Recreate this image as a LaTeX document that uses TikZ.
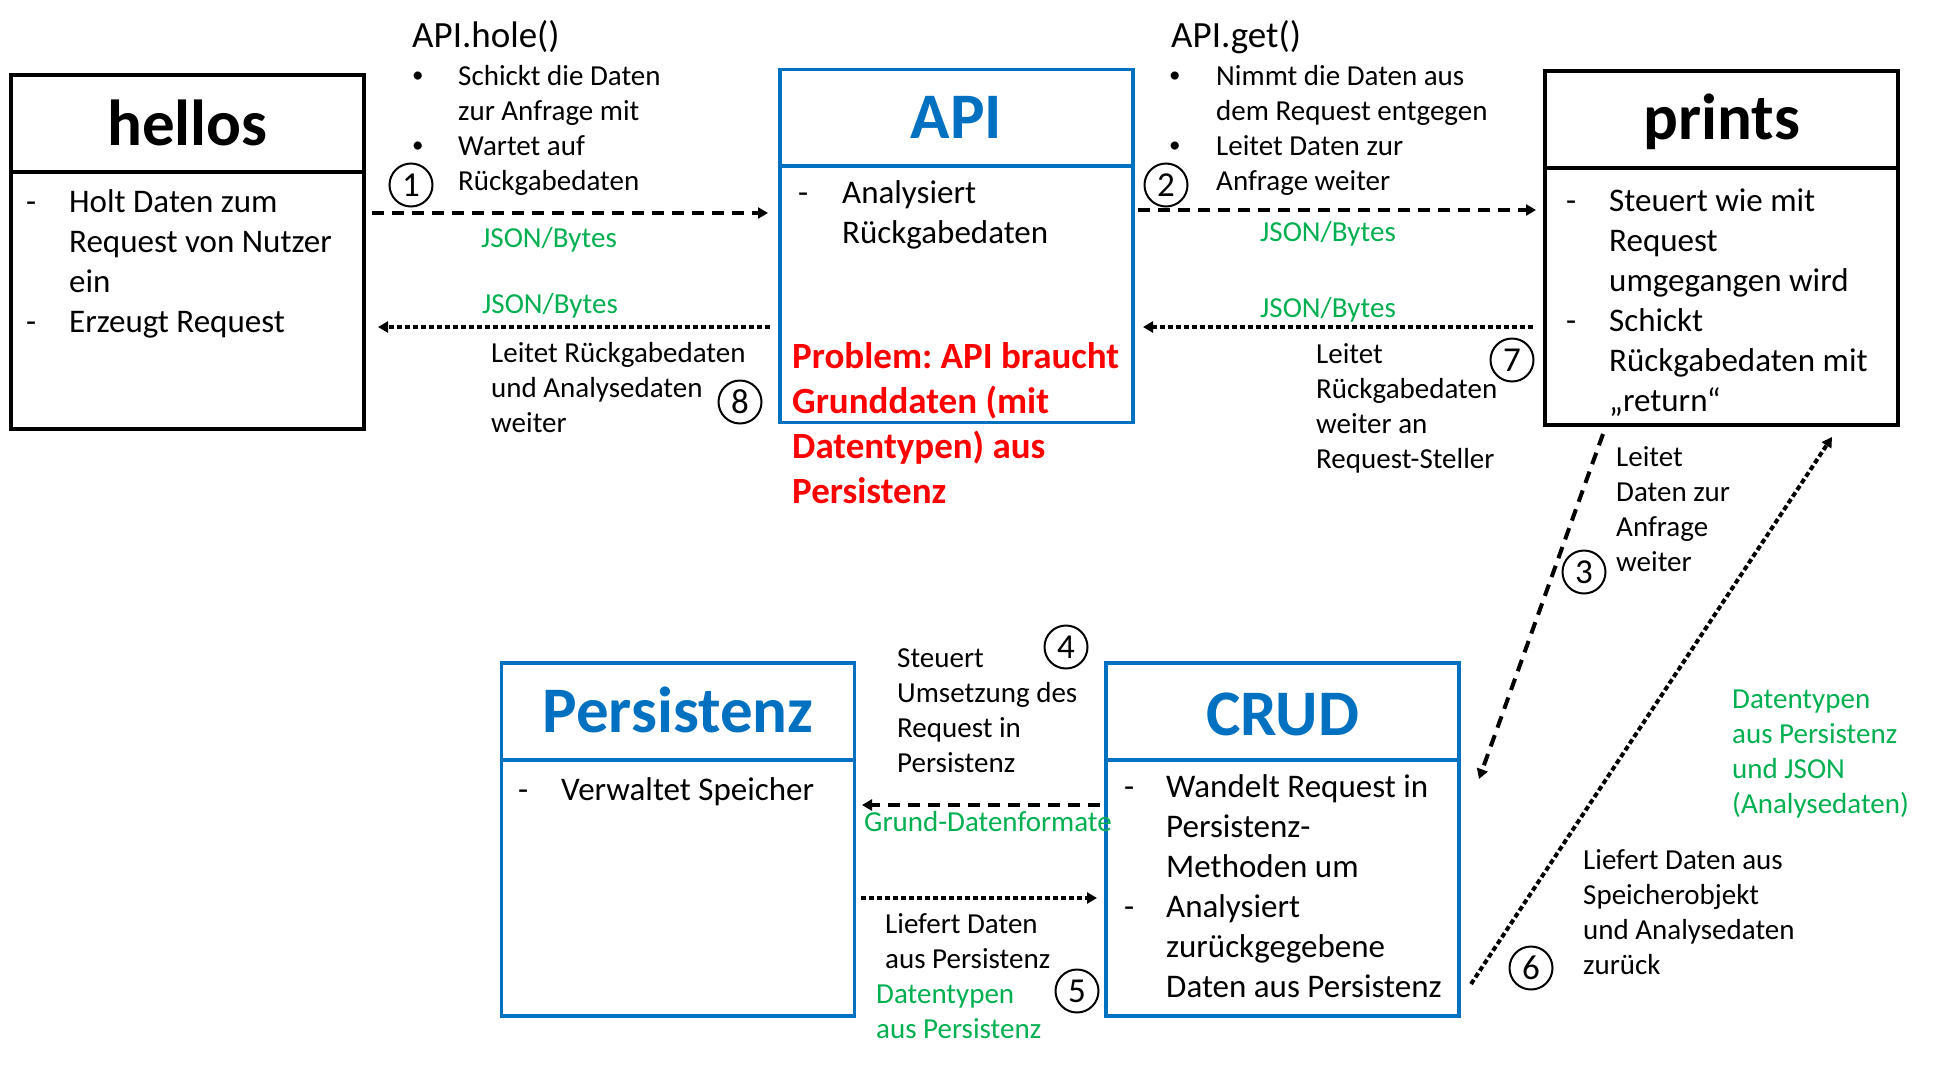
\documentclass[tikz,border=0pt]{standalone}
\usepackage{fontspec}
\setmainfont{Carlito}
\usetikzlibrary{arrows.meta}
\definecolor{ppblue}{HTML}{0070C0}
\definecolor{ppgreen}{HTML}{00B050}
\definecolor{ppred}{HTML}{FF0000}
\frenchspacing
\newcommand{\ml}[1]{\begin{tabular}[t]{@{}l@{}}#1\end{tabular}}
\newcommand{\bl}[1]{\begin{tabular}[t]{@{}p{42bp}@{}l@{}}#1\end{tabular}}
\newcommand{\dl}[1]{\begin{tabular}[t]{@{}p{43bp}@{}l@{}}#1\end{tabular}}
\newcommand{\bul}{\raisebox{2.5bp}{\fontsize{23bp}{23bp}\selectfont•}}
\begin{document}
\begin{tikzpicture}[x=1bp,y=-1bp,
  frameK/.style={draw=black,line width=4bp,inner sep=0,minimum width=353bp,minimum height=354bp},
  frameB/.style={draw=ppblue,line width=3.5bp,inner sep=0,minimum width=353bp,minimum height=353bp},
  ttl/.style={font=\fontsize{65bp}{78bp}\selectfont\bfseries,anchor=base,inner sep=0},
  body/.style={font=\fontsize{33bp}{40bp}\selectfont,anchor=base west,inner sep=0},
  note/.style={font=\fontsize{29bp}{35bp}\selectfont,anchor=base west,inner sep=0},
  big/.style={font=\fontsize{37bp}{45bp}\selectfont,anchor=base west,inner sep=0},
  redtxt/.style={font=\fontsize{37bp}{45bp}\selectfont\bfseries,anchor=base west,inner sep=0,text=ppred},
  num/.style={circle,draw,line width=2bp,minimum size=43bp,inner sep=0,font=\fontsize{35bp}{40bp}\selectfont},
  dasharr/.style={line width=4bp,dash pattern=on 12bp off 8bp,-{Triangle[length=10bp,width=11bp]}},
  dotarr/.style={line width=4bp,dash pattern=on 5bp off 3bp,-{Triangle[length=10bp,width=11bp]}}
]
\useasboundingbox[fill=white] (0,0) rectangle (1933,1065);

% ---- hellos
\node[frameK] (hellos) at (187.5,252) {};
\draw[line width=4bp] (hellos.west |- 0,172) -- (hellos.east |- 0,172);
\node[ttl] (hellosT) at (187.5,145) {hellos};
\node[body] (hellosB) at (26,212) {\dl{- & Holt Daten zum\\ & Request von Nutzer\\ & ein\\ - & Erzeugt Request}};

% ---- API
\node[frameB] (api) at (956.5,246) {};
\draw[ppblue,line width=3.5bp] (api.west |- 0,166) -- (api.east |- 0,166);
\node[ttl,text=ppblue] (apiT) at (956.5,138) {API};
\node[body] (apiB) at (798,203) {\begin{tabular}[t]{@{}p{44bp}@{}l@{}}- & Analysiert\\ & Rückgabedaten\end{tabular}};
\node[redtxt] (problem) at (792,368) {\begin{tabular}[t]{@{}l@{}}Problem: API braucht\\ Grunddaten (mit\\ Datentypen) aus\\ Persistenz\end{tabular}};

% ---- prints
\node[frameK] (prints) at (1721.5,248) {};
\draw[line width=4bp] (prints.west |- 0,168) -- (prints.east |- 0,168);
\node[ttl] (printsT) at (1721.5,139) {prints};
\node[body] (printsB) at (1566,211) {\dl{- & Steuert wie mit\\ & Request\\ & umgegangen wird\\ - & Schickt\\ & Rückgabedaten mit\\ & „return“}};

% ---- Persistenz
\node[frameB] (pers) at (678,839.5) {};
\draw[ppblue,line width=3.5bp] (pers.west |- 0,760) -- (pers.east |- 0,760);
\node[ttl,text=ppblue] (persT) at (678,732) {Persistenz};
\node[body] (persB) at (518,800) {\dl{- & Verwaltet Speicher}};

% ---- CRUD
\node[frameB] (crud) at (1282.5,839.5) {};
\draw[ppblue,line width=3.5bp] (crud.west |- 0,760) -- (crud.east |- 0,760);
\node[ttl,text=ppblue] (crudT) at (1282.5,735) {CRUD};
\node[body] (crudB) at (1124,797) {\begin{tabular}[t]{@{}p{42bp}@{}l@{}}- & Wandelt Request in\\ & Persistenz-\\ & Methoden um\\ - & Analysiert\\ & zurückgegebene\\ & Daten aus Persistenz\end{tabular}};

% ---- connector endpoints
\coordinate (a1s) at (372,213);  \coordinate (a1e) at (768,213);
\coordinate (a8s) at (770,327);  \coordinate (a8e) at (378,327);
\coordinate (a2s) at (1138,210); \coordinate (a2e) at (1536,210);
\coordinate (a7s) at (1533,327); \coordinate (a7e) at (1143,327);
\coordinate (a3s) at (1603,434); \coordinate (a3e) at (1479,779);
\coordinate (a6s) at (1471,984); \coordinate (a6e) at (1832,437);
\coordinate (a4s) at (1100,805); \coordinate (a4e) at (862,805);
\coordinate (a5s) at (861,898);  \coordinate (a5e) at (1097,898);

\draw[dasharr] (a1s) -- (a1e);
\draw[dotarr]  (a8s) -- (a8e);
\draw[dasharr] (a2s) -- (a2e);
\draw[dotarr]  (a7s) -- (a7e);
\draw[dasharr] (a3s) -- (a3e);
\draw[dotarr]  (a6s) -- (a6e);
\draw[dasharr] (a4s) -- (a4e);
\draw[dotarr]  (a5s) -- (a5e);

% ---- labels
\node[big] (hole) at (412,47) {API.hole()};
\node[note] (holeL) at (412,85) {\begin{tabular}[t]{@{}p{46bp}@{}l@{}}\bul & Schickt die Daten\\ & zur Anfrage mit\\ \bul & Wartet auf\\ & Rückgabedaten\end{tabular}};
\node[note,text=ppgreen] (j1) at (481,247) {JSON/Bytes};
\node[note,text=ppgreen] (j8) at (482,313) {JSON/Bytes};
\node[note] (l8) at (491,362) {\ml{Leitet Rückgabedaten\\ und Analysedaten\\ weiter}};

\node[big] (get) at (1171,47) {API.get()};
\node[note] (getL) at (1169,85) {\begin{tabular}[t]{@{}p{47bp}@{}l@{}}\bul & Nimmt die Daten aus\\ & dem Request entgegen\\ \bul & Leitet Daten zur\\ & Anfrage weiter\end{tabular}};
\node[note,text=ppgreen] (j2) at (1260,241) {JSON/Bytes};
\node[note,text=ppgreen] (j7) at (1260,317) {JSON/Bytes};
\node[note] (l7) at (1316,363) {\ml{Leitet\\ Rückgabedaten\\ weiter an\\ Request-Steller}};

\node[note] (l3) at (1616,466) {\ml{Leitet\\ Daten zur\\ Anfrage\\ weiter}};
\node[note,text=ppgreen] (g6) at (1732,708) {\ml{Datentypen\\ aus Persistenz\\ und JSON\\ (Analysedaten)}};
\node[note] (l6) at (1583,869) {\ml{Liefert Daten aus\\ Speicherobjekt\\ und Analysedaten\\ zurück}};

\node[note] (l4) at (897,667) {\ml{Steuert\\ Umsetzung des\\ Request in\\ Persistenz}};
\node[note,text=ppgreen] (g4) at (864,831) {Grund-Datenformate};
\node[note] (l5) at (885,933) {\ml{Liefert Daten\\ aus Persistenz}};
\node[note,text=ppgreen] (g5) at (876,1003) {\ml{Datentypen\\ aus Persistenz}};

% ---- step numbers
\node[num] (c1) at (411,185) {1};
\node[num] (c2) at (1166,185) {2};
\node[num] (c3) at (1584,572) {3};
\node[num] (c4) at (1066,647) {4};
\node[num] (c5) at (1077,991) {5};
\node[num] (c6) at (1531,968) {6};
\node[num] (c7) at (1512,360) {7};
\node[num] (c8) at (740,402) {8};
\end{tikzpicture}
\end{document}
